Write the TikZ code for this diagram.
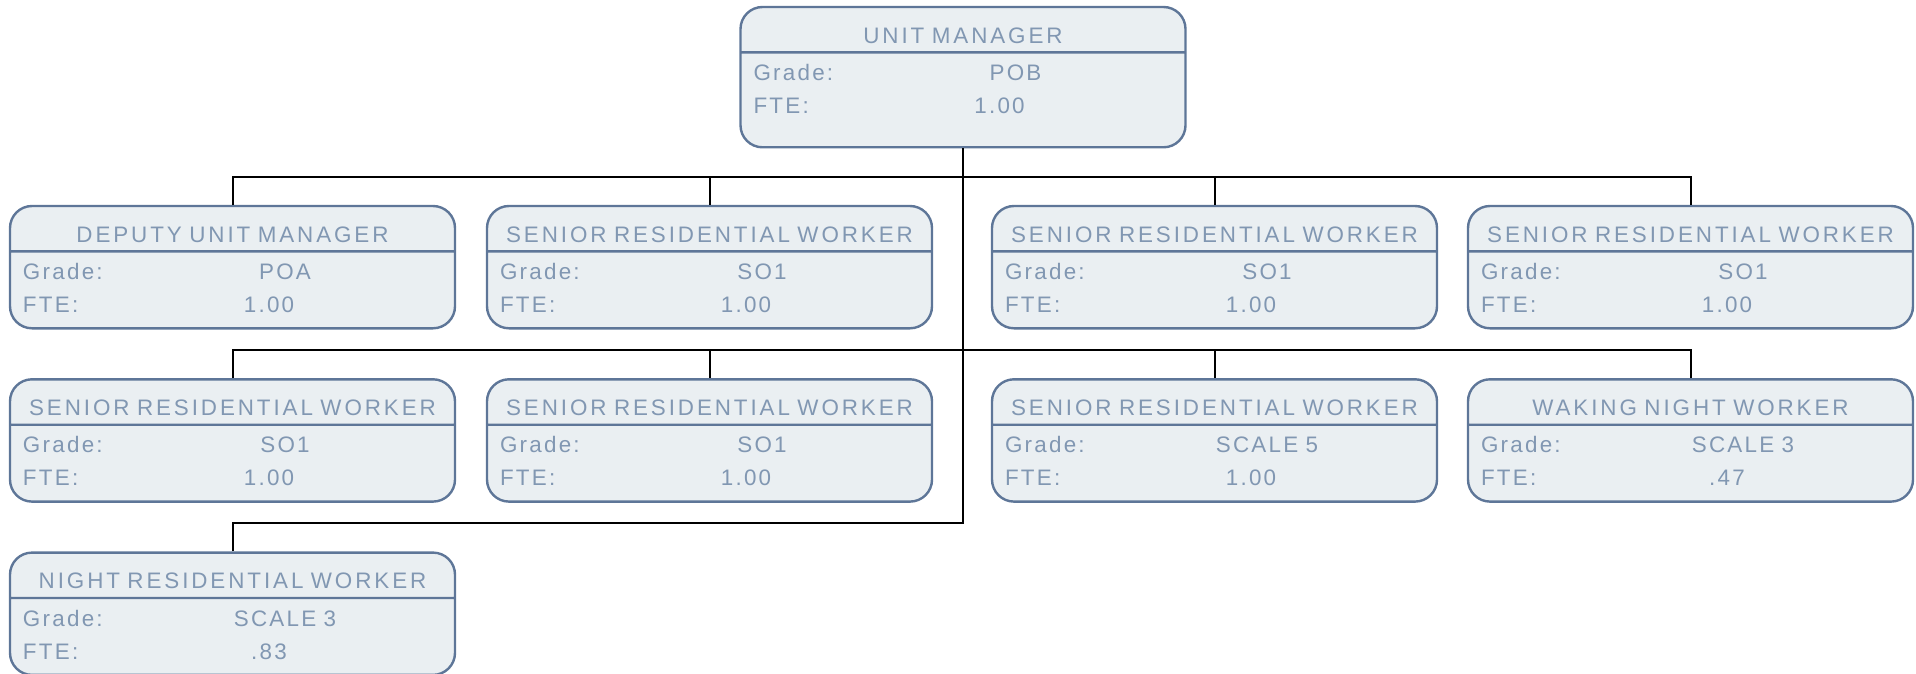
\documentclass[tikz,border=0pt]{standalone}
\usepackage{fontspec}
\newfontfamily\orgfont[LetterSpace=10]{Liberation Sans}
\newfontfamily\headfont[LetterSpace=13]{Liberation Sans}
\usetikzlibrary{positioning,shapes.multipart}
\definecolor{postline}{HTML}{5E7698}
\definecolor{postfill}{HTML}{EAEFF2}
\definecolor{posttext}{HTML}{8197B2}
\newcommand{\posttitle}[1]{\rule[-4pt]{0pt}{21.5pt}\makebox[209.5pt]{\headfont #1}}
\newcommand{\postinfo}[3][7.25pt]{\rule{0pt}{13.5pt}\makebox[131pt][l]{Grade:}\makebox[0pt]{#2}\par
  \makebox[123pt][l]{FTE:}\makebox[0pt]{#3}\rule[-#1]{0pt}{#1}}

\begin{document}
\begin{tikzpicture}[
  post/.style={rectangle split, rectangle split parts=2, draw=postline, fill=postfill,
    line width=1.2pt, rounded corners=11pt, text=posttext, text width=209.5pt,
    inner xsep=6.5pt, inner ysep=0pt, align=left,
    font=\orgfont\fontsize{11.2}{16.5}\selectfont},
  link/.style={line width=1pt}
 ]
 \useasboundingbox (0,0) rectangle (958pt,-337pt);
 \node [post, anchor=north] (um) at (481.5pt,-2.9pt)
  {\posttitle{UNIT MANAGER}\nodepart{two}\postinfo[16.25pt]{POB}{1.00}};
 % first row
 \node [post, anchor=north west] (dum) at (4.4pt,-102.4pt)
  {\posttitle{DEPUTY UNIT MANAGER}\nodepart{two}\postinfo{POA}{1.00}};
 \node [post, right=14.8pt of dum] (srw1)
  {\posttitle{SENIOR RESIDENTIAL WORKER}\nodepart{two}\postinfo{SO1}{1.00}};
 \node [post, right=28.8pt of srw1] (srw2)
  {\posttitle{SENIOR RESIDENTIAL WORKER}\nodepart{two}\postinfo{SO1}{1.00}};
 \node [post, right=14.3pt of srw2] (srw3)
  {\posttitle{SENIOR RESIDENTIAL WORKER}\nodepart{two}\postinfo{SO1}{1.00}};
 % second row
 \node [post, below=24.3pt of dum] (srw4)
  {\posttitle{SENIOR RESIDENTIAL WORKER}\nodepart{two}\postinfo{SO1}{1.00}};
 \node [post, below=24.3pt of srw1] (srw5)
  {\posttitle{SENIOR RESIDENTIAL WORKER}\nodepart{two}\postinfo{SO1}{1.00}};
 \node [post, below=24.3pt of srw2] (srw6)
  {\posttitle{SENIOR RESIDENTIAL WORKER}\nodepart{two}\postinfo{SCALE 5}{1.00}};
 \node [post, below=24.3pt of srw3] (wnw)
  {\posttitle{WAKING NIGHT WORKER}\nodepart{two}\postinfo{SCALE 3}{.47}};
 % third row
 \node [post, below=24.3pt of srw4] (nrw)
  {\posttitle{NIGHT RESIDENTIAL WORKER}\nodepart{two}\postinfo{SCALE 3}{.83}};
 \foreach \n in {dum,srw1,srw2,srw3,srw4,srw5,srw6,wnw,nrw}
  \draw [link] (\n.north) -- ++(0,14pt) -| (um.south);
\end{tikzpicture}
\end{document}
